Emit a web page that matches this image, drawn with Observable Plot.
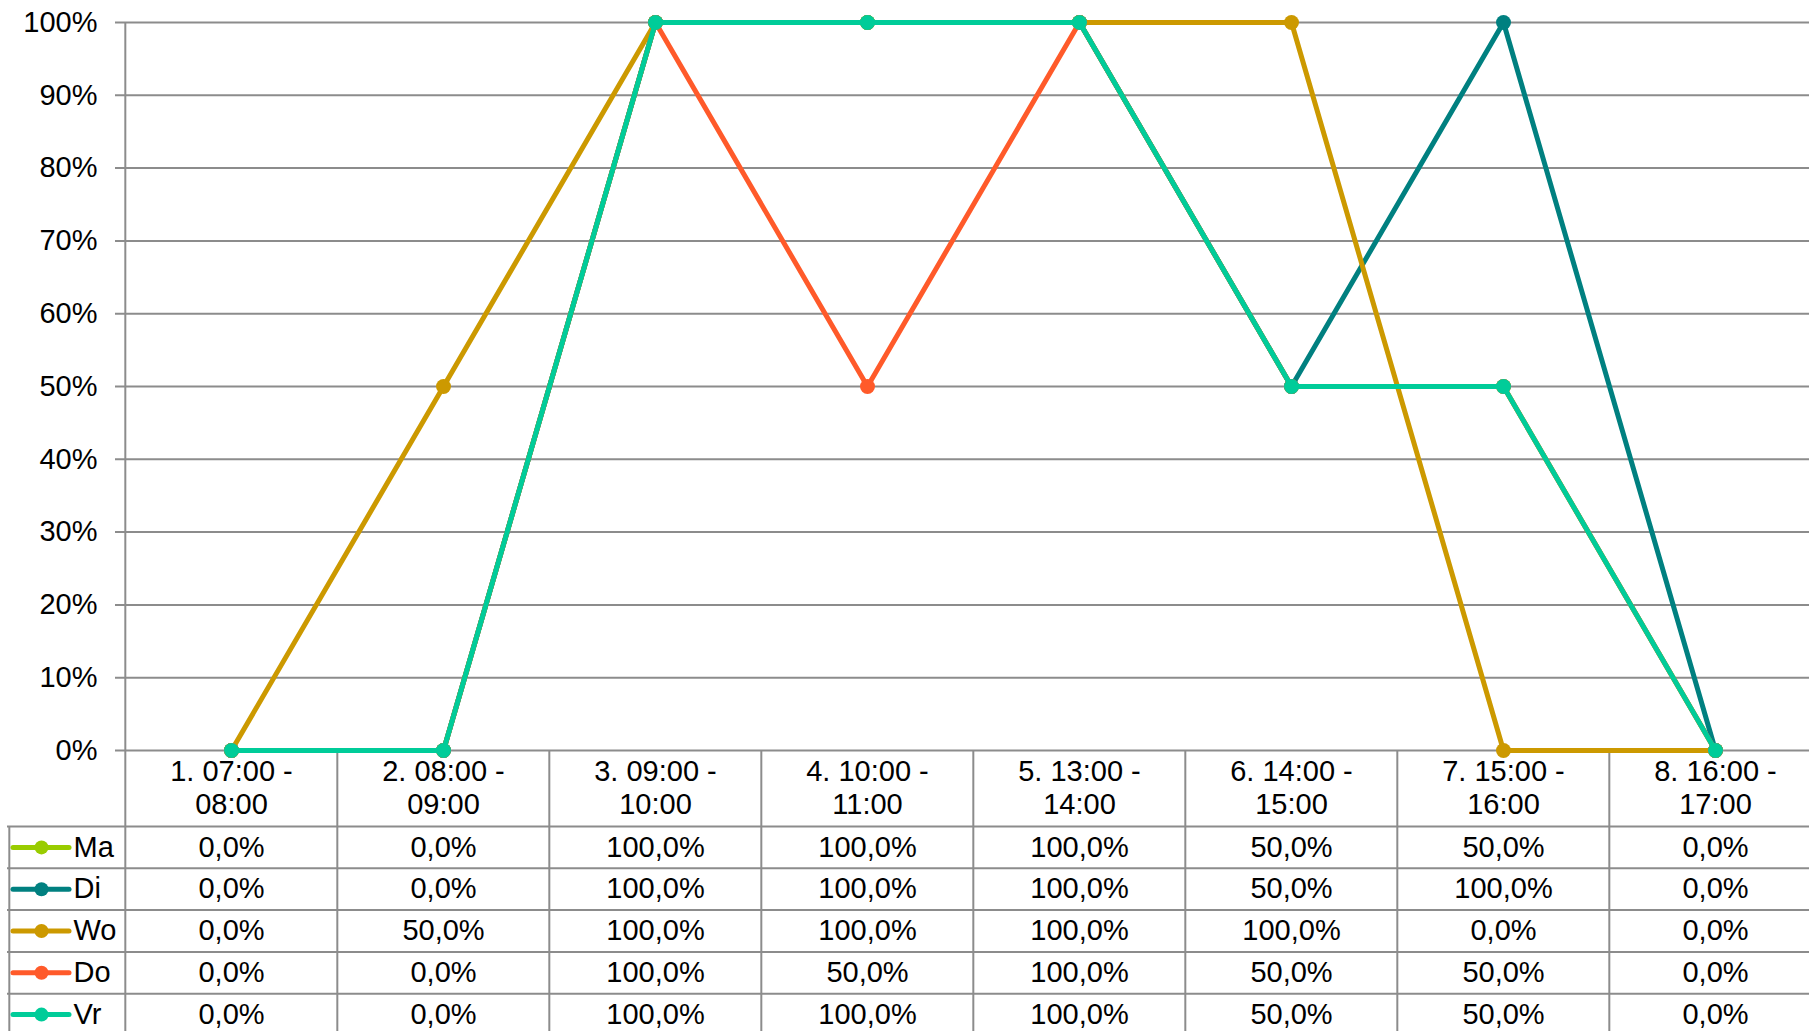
<!DOCTYPE html>
<html>
<head>
<meta charset="utf-8">
<script src="https://cdn.jsdelivr.net/npm/d3@7"></script>
<script src="https://cdn.jsdelivr.net/npm/@observablehq/plot@0.6"></script>
<style>
  html, body { margin: 0; padding: 0; background: #fff; overflow: hidden; }
  #chart svg { display: block; max-width: none !important; }
</style>
</head>
<body>
<div id="chart"></div>
<script>
// ---- data ----
const categories = [
  "1. 07:00 -\n08:00", "2. 08:00 -\n09:00", "3. 09:00 -\n10:00", "4. 10:00 -\n11:00",
  "5. 13:00 -\n14:00", "6. 14:00 -\n15:00", "7. 15:00 -\n16:00", "8. 16:00 -\n17:00"
];
const seriesNames = ["Ma", "Di", "Wo", "Do", "Vr"];
const ma = [0, 0, 1, 1, 1, 0.5, 0.5, 0];
const di = [0, 0, 1, 1, 1, 0.5, 1, 0];
const wo = [0, 0.5, 1, 1, 1, 1, 0, 0];
const dO = [0, 0, 1, 0.5, 1, 0.5, 0.5, 0];
const vr = [0, 0, 1, 1, 1, 0.5, 0.5, 0];
const seriesColors = ["#99CC00", "#008080", "#CC9900", "#FF5A2A", "#00CC99"];
const yTicks = [0, 0.1, 0.2, 0.3, 0.4, 0.5, 0.6, 0.7, 0.8, 0.9, 1];

// ---- layout ----
const W = 1822, H = 1031;
const ML = 123, MT = 22, ZERO = 750;
const HEADER_BOTTOM = 826, ROW_H = 41.8, TABLE_LEFT = 7;
const step = (W - ML) / categories.length;
const GRID = "#8c8c8c";
const FONT = "'Liberation Sans', Arial, Helvetica, sans-serif";
const FS = 29;

const seriesValues = [ma, di, wo, dO, vr];
const fmt = d3.formatLocale({decimal: ",", thousands: ".", grouping: [3], currency: ["€", ""]}).format(".1%");

const marks = [];

// gridlines (with tick stubs left of the axis)
marks.push(Plot.ruleY(yTicks, {stroke: GRID, strokeWidth: 2, insetLeft: -8}));

// vertical lines: axis line + category boundaries through the table
categories.forEach((c, i) => {
  marks.push(Plot.ruleX([c], {
    x: d => d, dx: -step / 2, stroke: GRID, strokeWidth: 2,
    insetTop: i === 0 ? 0 : ZERO - MT, insetBottom: -(H - ZERO)
  }));
});
// table left border
marks.push(Plot.ruleX([categories[0]], {
  x: d => d, dx: -step / 2 - (ML - TABLE_LEFT), stroke: GRID, strokeWidth: 2,
  insetTop: HEADER_BOTTOM - MT, insetBottom: -(H - ZERO)
}));
// table horizontal lines
seriesNames.forEach((s, k) => {
  marks.push(Plot.ruleY([0], {
    stroke: GRID, strokeWidth: 2, dy: HEADER_BOTTOM + k * ROW_H - ZERO,
    insetLeft: -(ML - TABLE_LEFT)
  }));
});

// series lines + markers (Excel order)
seriesNames.forEach((s, k) => {
  const rows = categories.map((c, i) => ({cat: c, value: seriesValues[k][i]}));
  marks.push(Plot.line(rows, {
    x: "cat", y: "value", stroke: seriesColors[k], strokeWidth: 5,
    strokeLinejoin: "round", strokeLinecap: "round"
  }));
  marks.push(Plot.dot(rows, {x: "cat", y: "value", r: 7.5, fill: seriesColors[k], stroke: "none"}));
});

// category header
marks.push(Plot.text(categories, {
  x: d => d, text: d => d, frameAnchor: "bottom", lineAnchor: "top",
  dy: 7, lineHeight: 1.14, fontSize: FS, fill: "#000"
}));

// table rows
seriesNames.forEach((s, k) => {
  const cy = HEADER_BOTTOM + (k + 0.5) * ROW_H - ZERO;
  marks.push(Plot.text(categories, {
    x: d => d, text: (d, i) => fmt(seriesValues[k][i]), frameAnchor: "bottom",
    lineAnchor: "middle", dy: cy, fontSize: FS, fill: "#000"
  }));
  // legend swatch
  marks.push(Plot.ruleY([0], {
    stroke: seriesColors[k], strokeWidth: 5, dy: cy,
    insetLeft: 13 - ML, insetRight: W - 69, strokeLinecap: "round"
  }));
  marks.push(Plot.dot([s], {
    frameAnchor: "bottom-left", dx: 41 - ML, dy: cy, r: 7, fill: seriesColors[k], stroke: "none"
  }));
  marks.push(Plot.text([s], {
    text: d => d, frameAnchor: "bottom-left", lineAnchor: "middle", dx: 73 - ML, dy: cy,
    textAnchor: "start", fontSize: FS, fill: "#000"
  }));
});

// y axis labels
marks.push(Plot.axisY(yTicks, {
  tickSize: 0, tickPadding: 26, tickFormat: d3.format(".0%"),
  fontSize: FS, label: null, fill: "#000"
}));

const chart = Plot.plot({
  width: W, height: H,
  marginLeft: ML, marginRight: 0, marginTop: MT, marginBottom: H - ZERO,
  style: {fontFamily: FONT, fontSize: FS + "px", background: "#fff", color: "#000", overflow: "visible", maxWidth: "none"},
  x: {type: "point", domain: categories, padding: 0.5, axis: null},
  y: {domain: [0, 1], axis: null},
  marks
});
document.getElementById("chart").appendChild(chart);
</script>
</body>
</html>
